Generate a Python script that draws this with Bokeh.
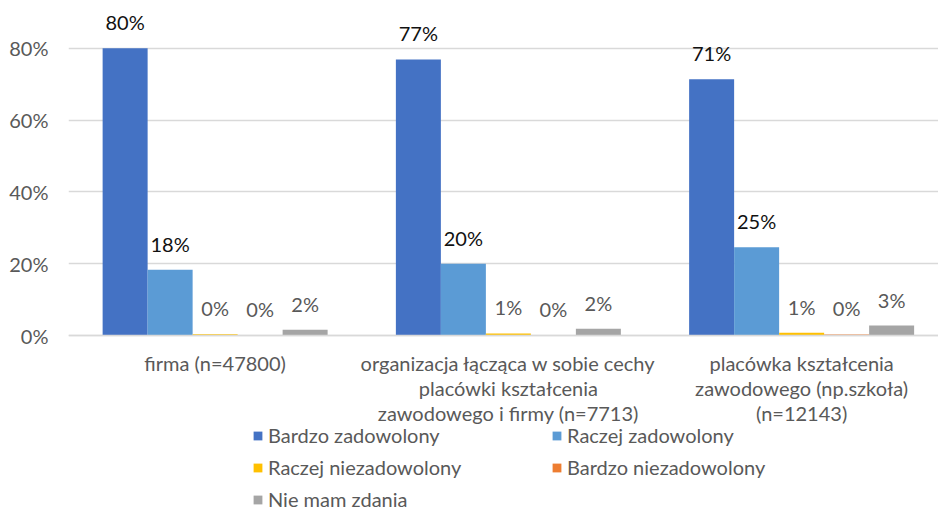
from bokeh.plotting import figure
from bokeh.models import (ColumnDataSource, FixedTicker, PrintfTickFormatter, Range1d,
                          Legend, LegendItem)
from bokeh.transform import dodge
from bokeh.core.properties import value
from bokeh.embed import file_html
from bokeh.resources import INLINE

categories = [
    "firma (n=47800)",
    "organizacja łącząca w sobie cechy\nplacówki kształcenia\nzawodowego i firmy (n=7713)",
    "placówka kształcenia\nzawodowego (np.szkoła)\n(n=12143)",
]
series_names = ["Bardzo zadowolony", "Raczej zadowolony", "Raczej niezadowolony",
                "Bardzo niezadowolony", "Nie mam zdania"]
bardzo_zadowolony = [80.0, 76.9, 71.4]
raczej_zadowolony = [18.3, 20.0, 24.6]
raczej_niezadowolony = [0.4, 0.6, 0.8]
bardzo_niezadowolony = [0.1, 0.1, 0.3]
nie_mam_zdania = [1.6, 1.9, 2.8]
y_ticks = [0, 20, 40, 60, 80]

series_values = [bardzo_zadowolony, raczej_zadowolony, raczej_niezadowolony,
                 bardzo_niezadowolony, nie_mam_zdania]
colors = ["#4472C4", "#5B9BD5", "#FFC000", "#ED7D31", "#A5A5A5"]
label_colors = ["#111111", "#111111", "#595959", "#595959", "#595959"]

FONT = "Lato"
FS = "20px"

p = figure(frame_width=870, frame_height=503, output_backend="svg", toolbar_location=None,
           x_range=Range1d(0, 870 / 293.25), y_range=Range1d(-49.0, 91.1),
           min_border_left=68, min_border_right=0, min_border_top=8,
           min_border_bottom=0)
p.outline_line_color = None
p.xgrid.grid_line_color = None
p.ygrid.grid_line_color = "#D9D9D9"
p.ygrid.grid_line_width = 1.3
p.ygrid.ticker = FixedTicker(ticks=y_ticks)

p.yaxis.ticker = FixedTicker(ticks=y_ticks)
p.yaxis.formatter = PrintfTickFormatter(format="%d%%")
p.yaxis.axis_line_color = None
p.yaxis.major_tick_line_color = None
p.yaxis.minor_tick_line_color = None
p.yaxis.major_label_text_font = FONT
p.yaxis.major_label_text_font_size = FS
p.yaxis.major_label_text_color = "#595959"
p.yaxis.major_label_standoff = 14

centers = [i + 0.5 for i in range(len(categories))]
p.xaxis.fixed_location = 0
p.xaxis.ticker = FixedTicker(ticks=centers)
p.xaxis.major_label_overrides = {c: cat for c, cat in zip(centers, categories)}
p.xaxis.axis_line_color = "#D9D9D9"
p.xaxis.axis_line_width = 1.3
p.xaxis.major_tick_line_color = None
p.xaxis.minor_tick_line_color = None
p.xaxis.major_label_text_font = FONT
p.xaxis.major_label_text_font_size = FS
p.xaxis.major_label_text_color = "#595959"
p.xaxis.major_label_standoff = 9
p.xaxis.major_label_text_line_height = 1.06

bw = 45 / 293.25
items = []
for k, (name, vals) in enumerate(zip(series_names, series_values)):
    src = ColumnDataSource(dict(x=centers, top=vals,
                                lbl=["%d%%" % round(v) for v in vals]))
    off = (k - 2) * bw
    r = p.vbar(x=dodge("x", off, range=p.x_range), top="top", width=bw, bottom=0,
               source=src, fill_color=colors[k], line_color=None)
    p.text(x=dodge("x", off, range=p.x_range), y="top", text="lbl", source=src,
           text_align="center", text_baseline="bottom", y_offset=-14,
           text_font=value(FONT), text_font_size=FS, text_color=label_colors[k])
    items.append(LegendItem(label=name, renderers=[r]))

order = [0, 2, 4, 1, 3]
legend = Legend(items=[items[i] for i in order], location=(184, 0), ncols=2,
                glyph_width=11, glyph_height=11, label_standoff=5, spacing=8,
                label_width=275, label_text_font=FONT, label_text_font_size=FS,
                label_text_color="#595959", padding=0, margin=0,
                border_line_color=None, background_fill_alpha=0)
p.add_layout(legend, "center")

open("out.html", "w").write(file_html(p, INLINE))
